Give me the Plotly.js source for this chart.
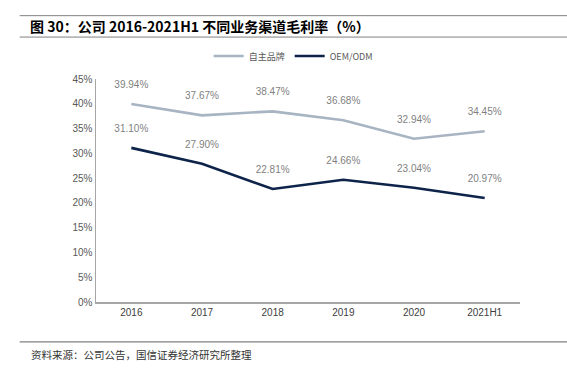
<!DOCTYPE html>
<html><head><meta charset="utf-8">
<script src="https://cdn.plot.ly/plotly-3.0.1.min.js"></script>
<style>html,body{margin:0;padding:0;background:#fff}#chart{width:567px;height:381px}</style>
</head><body><div id="chart"></div>
<script>
const categories = ["2016","2017","2018","2019","2020","2021H1"];
const ownBrand = [39.94, 37.67, 38.47, 36.68, 32.94, 34.45];
const oemOdm = [31.10, 27.90, 22.81, 24.66, 23.04, 20.97];
const seriesNames = ["自主品牌", "OEM/ODM"];
const yTicks = [0,5,10,15,20,25,30,35,40,45];

const fontLatin = "Liberation Sans, Arial, sans-serif";
const fontCJK = "Noto Sans CJK SC, sans-serif";

function mk(y, name, color) {
  return {x: categories, y: y, name: name, mode: "lines+markers+text",
   line: {color: color, width: 2.6},
   marker: {size: 20, color: "rgba(0,0,0,0)"},
   text: y.map(v => v.toFixed(2) + "%"), textposition: "top center",
   textfont: {family: fontLatin, size: 10, color: "#7F7F7F"}, cliponaxis: false};
}
const traces = [mk(ownBrand, seriesNames[0], "#A7B4C2"), mk(oemOdm, seriesNames[1], "#0D2349")];

const layout = {
  width: 567, height: 381,
  margin: {l: 96, r: 47, t: 79, b: 79},
  paper_bgcolor: "#fff", plot_bgcolor: "#fff",
  showlegend: true,
  legend: {orientation: "h", x: 0.465, xanchor: "center", y: 0.853, yref: "container", yanchor: "middle",
    font: {family: fontCJK, size: 9, color: "#595959"}, itemwidth: 30, traceorder: "normal"},
  xaxis: {type: "category", range: [-0.5, 5.5], showgrid: false, showline: true, linecolor: "#A6A6A6", linewidth: 1.5,
    ticks: "", tickfont: {family: fontLatin, size: 10, color: "#404040"}, fixedrange: true},
  yaxis: {range: [0, 45], tickvals: yTicks, ticktext: yTicks.map(v => v + "%"), showgrid: false, zeroline: false,
    showline: true, linecolor: "#A6A6A6", linewidth: 1.5, ticks: "", ticklen: 0,
    tickfont: {family: fontLatin, size: 10, color: "#595959"}, fixedrange: true},
  shapes: [
    {type: "line", xref: "paper", yref: "paper", x0: -0.18, x1: 1.12, y0: 1.284, y1: 1.284, line: {color: "#808080", width: 1}},
    {type: "line", xref: "paper", yref: "paper", x0: -0.18, x1: 1.12, y0: 1.188, y1: 1.188, line: {color: "#808080", width: 1}},
    {type: "line", xref: "paper", yref: "paper", x0: -0.18, x1: 1.12, y0: -0.179, y1: -0.179, line: {color: "#808080", width: 1.2}}
  ],
  annotations: [
    {text: "<b>图 30：公司 2016-2021H1 不同业务渠道毛利率（%）</b>", xref: "paper", yref: "paper",
     x: -0.16, y: 1.238, xanchor: "left", yanchor: "middle", showarrow: false,
     font: {family: fontCJK, size: 14, color: "#000"}},
    {text: "资料来源：公司公告，国信证券经济研究所整理", xref: "paper", yref: "paper",
     x: -0.158, y: -0.237, xanchor: "left", yanchor: "middle", showarrow: false,
     font: {family: fontCJK, size: 10.5, color: "#333"}}
  ]
};
Plotly.newPlot("chart", traces, layout, {displayModeBar: false, staticPlot: true});
</script></body></html>
